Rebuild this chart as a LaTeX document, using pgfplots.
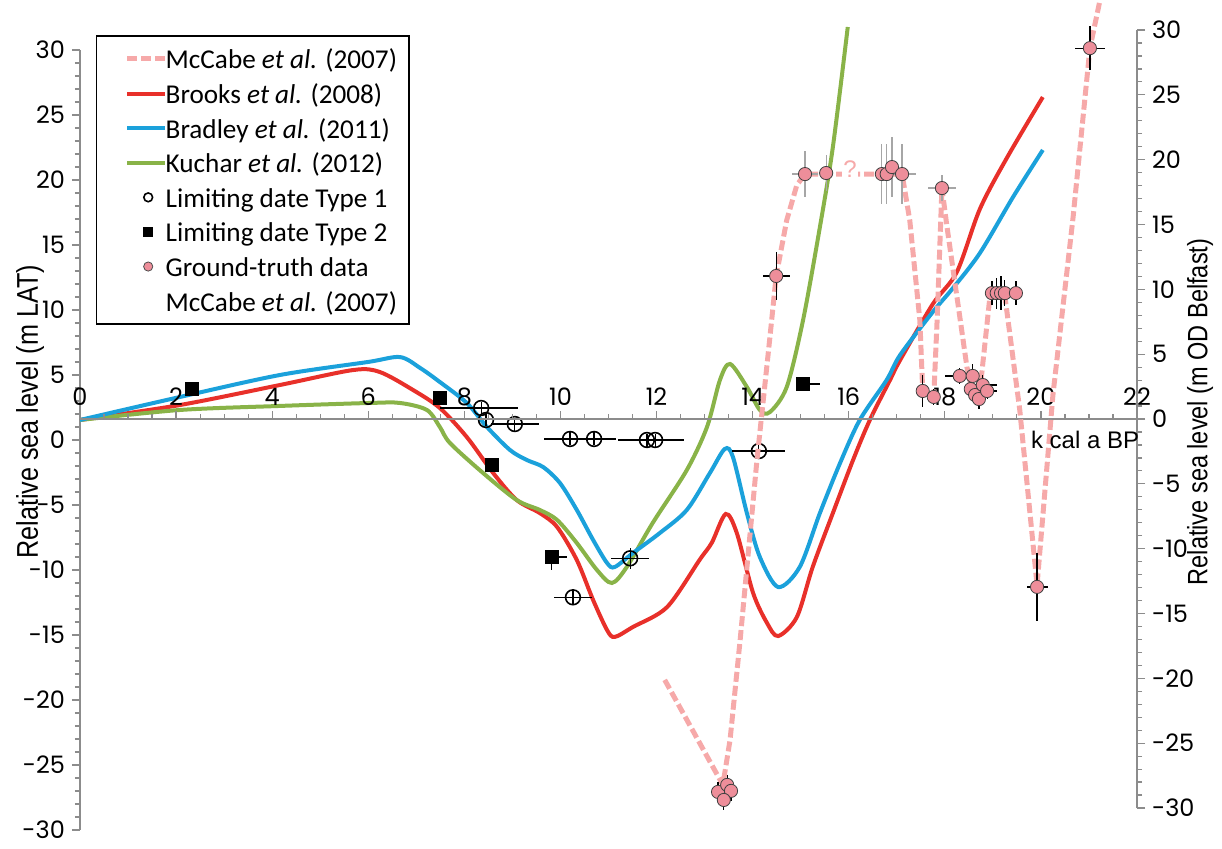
\documentclass[border=0pt]{standalone}
\usepackage{pgfplots}
\pgfplotsset{compat=1.18}
\usepackage{fontspec}
\setmainfont{Carlito}
\newfontfamily\tickfont{Poppins}
\newfontfamily\labelfont[FakeStretch=0.84]{Liberation Sans}
\newfontfamily\arialfont{Liberation Sans}

\definecolor{brooks}{HTML}{E8302A}
\definecolor{bradley}{HTML}{1BA1DB}
\definecolor{kuchar}{HTML}{89B348}
\definecolor{mccabe}{HTML}{F6A9A9}
\definecolor{gtfill}{HTML}{EE8E9A}
\definecolor{axisgray}{HTML}{8C8C8C}

\pgfplotsset{
  every axis/.append style={
    scale only axis, width=528.5pt, xmin=0, xmax=22,
    /pgf/number format/assume math mode=true,
    tick label style={font=\tickfont\fontsize{12}{14}\selectfont},
    axis line style={axisgray, line width=0.8pt},
    tick style={axisgray, line width=0.6pt},
    major tick length=4pt, minor tick length=2.5pt,
  },
  curve/.style={smooth, tension=0.5, line width=2pt, no marks},
  lineleg/.style={legend image code/.code={%
    \path[draw=none, fill=none] (10.75pt,-1pt) rectangle (31.75pt,1pt);
    \draw[##1] (10.75pt,0pt) -- (29.75pt,0pt);}},
  markleg/.style={legend image code/.code={%
    \path[draw=none, fill=none] (10.75pt,-1pt) rectangle (31.75pt,1pt);
    \draw[##1] plot coordinates {(21.25pt,0pt)};}},
  mcdash/.style={mccabe, line width=2.5pt, dash pattern=on 5pt off 2pt},
  errs/.style={error bars/.cd, x dir=both, x explicit, y dir=both, y explicit,
    error mark=none, error bar style={#1, line width=0.6pt}},
}

\begin{document}
\begin{tikzpicture}
\useasboundingbox (0,0) rectangle (611pt,424pt);

% ---------- left scale: m LAT ----------
\begin{axis}[
  at={(40pt,9pt)}, anchor=south west, height=390pt,
  ymin=-30, ymax=30, clip=false,
  axis x line=none, axis y line*=left, xtick=\empty,
  ytick={-30,-25,...,30}, minor y tick num=4, ytick align=outside,
  ylabel={Relative sea level (m LAT)},
  every axis y label/.style={at={(axis description cs:-0.0473,0.536)}, rotate=90,
    anchor=center, font=\labelfont\fontsize{15}{17}\selectfont},
  legend cell align=left,
  legend style={at={(0.0151,1.019)}, anchor=north west, draw=black, line width=0.75pt,
    fill=white, inner xsep=4.5pt, inner ysep=5pt, row sep=4.3pt,
    font=\fontsize{13.6}{16}\selectfont,
    nodes={text height=11.5pt, text depth=1.5pt, inner ysep=0pt, inner xsep=1.5pt},
    /tikz/every odd column/.append style={column sep=-3.25pt}},
]
\addlegendimage{mcdash, lineleg}
\addlegendentry{McCabe \textit{et al.} (2007)}
\addlegendimage{brooks, line width=2pt, lineleg}
\addlegendentry{Brooks \textit{et al.} (2008)}
\addlegendimage{bradley, line width=2pt, lineleg}
\addlegendentry{Bradley \textit{et al.} (2011)}
\addlegendimage{kuchar, line width=2pt, lineleg}
\addlegendentry{Kuchar \textit{et al.} (2012)}
\addlegendimage{only marks, mark=o, mark size=2.2pt, black, mark options={line width=0.8pt}, markleg}
\addlegendentry{Limiting date Type 1}
\addlegendimage{only marks, mark=square*, mark size=2pt, black, markleg}
\addlegendentry{Limiting date Type 2}
\addlegendimage{only marks, mark=*, mark size=2.3pt, mark options={fill=gtfill, draw=black!70, line width=0.4pt}, markleg}
\addlegendentry{Ground-truth data}
\addlegendimage{empty legend}
\addlegendentry{McCabe \textit{et al.} (2007)}

% Brooks et al. (2008)
\addplot[curve, brooks, forget plot] coordinates {
(0,1.54) (2.08,2.69) (4.16,4.23) (5.68,5.38) (6.24,5.23) (6.93,3.85) (7.49,2.46)
(8.05,0.23) (8.60,-2.54) (9.09,-4.62) (9.57,-5.62) (9.93,-6.69) (10.34,-9.23)
(10.68,-12.31) (10.97,-14.62) (11.13,-15.15) (11.51,-14.38) (12.22,-12.85)
(12.90,-9.2) (13.15,-7.9) (13.44,-5.69) (13.67,-7.15) (14.01,-11.77) (14.30,-14.08)
(14.53,-15.08) (14.92,-13.62) (15.25,-9.77) (15.67,-5.62) (16.09,-1.54) (16.44,1.54)
(16.86,4.62) (17.07,6.15) (17.75,10.46) (18.25,12.92) (18.73,17.77) (19.29,21.69)
(20.04,26.38)};
% Kuchar et al. (2012)
\addplot[curve, kuchar, forget plot] coordinates {
(0,1.54) (2.08,2.31) (4.16,2.62) (6.04,2.85) (6.66,2.85) (7.22,2.31) (7.49,1.0)
(7.70,-0.23) (8.39,-2.54) (9.09,-4.62) (9.57,-5.38) (9.93,-6.15) (10.34,-7.92)
(10.76,-10.0) (11.07,-11.0) (11.38,-9.77) (11.92,-6.38) (12.63,-2.31) (13.05,1.0)
(13.32,4.62) (13.53,5.85) (13.88,4.08) (14.15,2.31) (14.36,2.15) (14.71,4.08)
(15.05,9.23) (15.40,16.38) (15.67,22.54) (15.98,31.77)};
% Bradley et al. (2011)
\addplot[curve, bradley, forget plot] coordinates {
(0,1.54) (2.08,3.31) (4.16,5.0) (5.99,6.0) (6.66,6.38) (7.08,5.54) (7.49,4.46)
(8.05,2.85) (8.47,1.0) (8.95,-0.77) (9.30,-1.54) (9.64,-2.08) (9.99,-3.31)
(10.34,-5.38) (10.68,-7.69) (10.97,-9.46) (11.13,-9.77) (11.51,-8.69) (12.07,-7.15)
(12.63,-5.38) (13.11,-2.54) (13.42,-0.69) (13.59,-1.31) (13.88,-5.62) (14.15,-9.0)
(14.53,-11.31) (14.98,-9.77) (15.40,-5.62) (15.82,-1.77) (16.23,1.54) (16.79,4.62)
(17.07,6.54) (17.75,9.85) (18.17,11.69) (18.73,14.38) (19.42,18.69) (20.04,22.31)};

% limiting dates, type 2
\addplot[only marks, mark=square*, mark size=3.2pt, black, forget plot, errs=black] coordinates {
(2.33,3.92) +- (0,0)
(7.49,3.23) +- (0,0)
(8.57,-1.92) +- (0,0)
(9.82,-9.0) += (0.31,0) -= (0,1.0)
(15.05,4.31) += (0.35,0) -= (0,0)
};
% limiting dates, type 1
\addplot[only marks, mark=o, mark size=3.7pt, black, mark options={line width=0.8pt}, forget plot, errs=black] coordinates {
(8.35,2.46) += (0.77,0.5) -= (0.86,0.5)
(8.45,1.54) +- (0,0.5)
(9.05,1.23) +- (0.5,0.5)
(10.20,0.08) += (0.45,0.5) -= (0.55,0.5)
(10.70,0.08) +- (0.45,0.5)
(11.80,0.0) += (0.1,0.5) -= (0.6,0.5)
(11.97,0.0) += (0.6,0.5) -= (0.1,0.5)
(11.45,-9.1) +- (0.4,0.8)
(10.26,-12.1) +- (0.4,0.6)
(14.13,-0.85) +- (0.55,0.5)
};
\end{axis}

% ---------- right scale: m OD Belfast, with the time axis ----------
\begin{axis}[
  at={(40pt,20pt)}, anchor=south west, height=389pt,
  ymin=-30, ymax=30, clip=false,
  axis x line*=middle, axis y line*=right,
  xtick={0,2,...,22}, minor x tick num=3, xtick align=inside,
  ytick={-30,-25,...,30}, minor y tick num=4, ytick align=outside,
  hide obscured x ticks=false, hide obscured y ticks=false,
  xticklabel style={anchor=south, yshift=3pt},
  xlabel={k cal a BP},
  every axis x label/.style={at={(axis cs:20.92,-1.62)}, anchor=center,
    font=\arialfont\fontsize{12}{14}\selectfont},
  ylabel={Relative sea level (m OD Belfast)},
  every axis y label/.style={at={(axis description cs:1.0596,0.509)}, rotate=90,
    anchor=center, font=\labelfont\fontsize{14}{16}\selectfont},
]
% McCabe et al. (2007) curve
\addplot[mcdash, line join=round] coordinates {
(12.17,-20.12) (13.38,-28.22) (13.53,-24.75) (13.74,-17.04) (14.09,-3.16) (14.36,6.32)
(14.49,11.03) (14.71,15.34) (14.92,18.04) (15.09,18.89) (17.11,18.89) (17.27,15.34)
(17.48,7.63) (17.54,2.16) (17.77,1.70) (17.84,7.63) (17.94,17.81) (18.04,14.96)
(18.25,9.48) (18.46,4.01) (18.56,2.31) (18.73,2.16) (18.94,9.48) (19.25,9.48)
(19.56,0.69) (19.92,-12.8) (20.25,1.85) (20.67,15.57) (21.02,28.6) (21.23,32.3)};
\node[fill=white, inner sep=0.6pt, text=mccabe, font=\arialfont\fontsize{12}{12}\selectfont]
  at (axis cs:16.03,19.3) {?};

% ground-truth data, grey error bars
\addplot[only marks, mark=*, mark size=3.3pt, mark options={fill=gtfill, draw=black!75, line width=0.4pt}, errs=black!35] coordinates {
(15.09,18.89) +- (0.28,1.8)
(15.53,18.97) +- (0,1.4)
(16.69,18.89) +- (0,2.3)
(16.79,18.89) +- (0.2,2.3)
(16.90,19.43) +- (0,2.3)
(17.11,18.89) +- (0.3,2.3)
(17.94,17.81) +- (0.3,1.0)
};
% ground-truth data, black error bars
\addplot[only marks, mark=*, mark size=3.3pt, mark options={fill=gtfill, draw=black!75, line width=0.4pt}, errs=black] coordinates {
(13.28,-28.76) +- (0.1,0.8)
(13.47,-28.22) +- (0.1,0.8)
(13.55,-28.68) +- (0.1,0.8)
(13.40,-29.38) +- (0.1,0.8)
(14.49,11.03) +- (0.28,1.85)
(17.54,2.16) +- (0,1.2)
(17.77,1.70) +- (0,0.6)
(18.31,3.32) +- (0.3,0.6)
(18.58,3.32) +- (0,0.9)
(18.54,2.31) +- (0,0.6)
(18.63,1.85) +- (0,0.7)
(18.71,1.54) +- (0,0.8)
(18.79,2.62) +- (0.3,0.8)
(18.88,2.16) +- (0.2,0.6)
(18.98,9.71) +- (0,0.9)
(19.08,9.71) +- (0,1.2)
(19.17,9.71) +- (0,1.3)
(19.25,9.71) +- (0,1.0)
(19.48,9.71) +- (0,0.9)
(19.92,-12.95) +- (0.22,2.6)
(21.02,28.60) +- (0.31,1.7)
};
\end{axis}
\end{tikzpicture}
\end{document}
